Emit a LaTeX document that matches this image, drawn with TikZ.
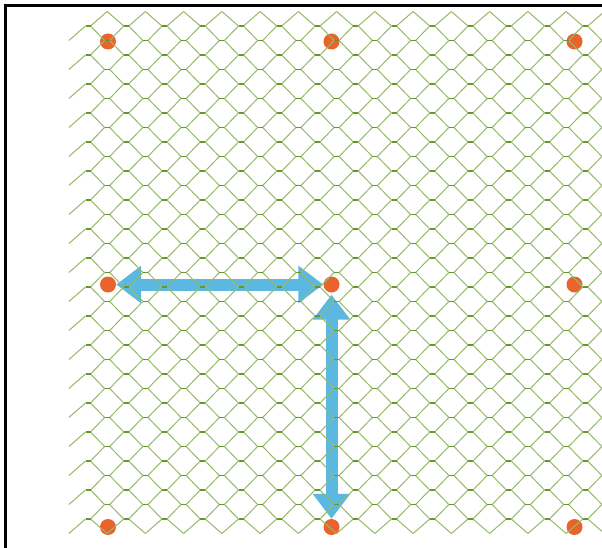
\documentclass[tikz,border=0pt]{standalone}
\usetikzlibrary{arrows.meta}
\definecolor{wirecol}{RGB}{150,186,104}
\definecolor{flatcol}{RGB}{104,150,46}
\definecolor{dotcol}{RGB}{232,100,44}
\definecolor{arrowcol}{RGB}{91,184,225}
\tikzset{
  wire/.style={wirecol, line width=1pt},
  flat/.style={flatcol, line width=1.7pt},
  dotnode/.style={circle, fill=dotcol, draw=none, minimum size=16pt, inner sep=0pt},
  barrow/.style={arrowcol, line width=12pt, {Triangle[length=25pt,width=36pt]}-{Triangle[length=25pt,width=36pt]}},
  frameline/.style={black, line width=3pt}
}
\begin{document}
\begin{tikzpicture}[x=1pt,y=-1pt]
\useasboundingbox (0,0) rectangle (602,548);
\fill[white] (0,0) rectangle (602,548);
% dots
\node[dotnode] (d11) at (108,41.5) {};
\node[dotnode] (d12) at (331.5,41.5) {};
\node[dotnode] (d13) at (574.5,41.5) {};
\node[dotnode] (d21) at (108,284.5) {};
\node[dotnode] (d22) at (331.5,284.5) {};
\node[dotnode] (d23) at (574.5,284.5) {};
\node[dotnode] (d31) at (108,527) {};
\node[dotnode] (d32) at (331.5,527) {};
\node[dotnode] (d33) at (574.5,527) {};
% arrows
\draw[barrow] (d21) -- (d22);
\draw[barrow, shorten <=2pt] (d22) -- (d32);
% mesh
\begin{scope}
\clip (0,0) rectangle (602,548);
\foreach \j in {0,2,...,34}{
  \foreach \k in {0,...,13}{
    \pgfmathsetmacro\xx{88+38.25*\k}
    \pgfmathsetmacro\yy{26+14.5*\j}
    \pgfmathsetmacro\fu{\j==0 ? 0 : 2.5}
    \pgfmathsetmacro\fd{\j==34 ? 0 : 2.5}
    \pgfmathsetmacro\fl{\k==0 ? 0 : \fd}
    \draw[wire] (\xx+2.5,\yy) -- (\xx+19.125-\fu,\yy-14.5);
    \draw[wire] (\xx+2.5,\yy) -- (\xx+19.125-\fd,\yy+14.5);
    \draw[wire] (\xx-2.5,\yy) -- (\xx-19.125+\fl,\yy+14.5);
    \ifnum\k>0 \draw[wire] (\xx-2.5,\yy) -- (\xx-19.125+\fu,\yy-14.5);\fi
    \draw[flat] (\xx-2.5,\yy) -- (\xx+2.5,\yy);
  }
}
\foreach \j in {1,3,...,33}{
  \foreach \k in {0,...,13}{
    \pgfmathsetmacro\xx{107.125+38.25*\k}
    \pgfmathsetmacro\yy{26+14.5*\j}
    \draw[flat] (\xx-2.5,\yy) -- (\xx+2.5,\yy);
  }
}
\end{scope}
% frame
\draw[frameline] (5.5,548) -- (5.5,5.5) -- (602,5.5);
\end{tikzpicture}
\end{document}
